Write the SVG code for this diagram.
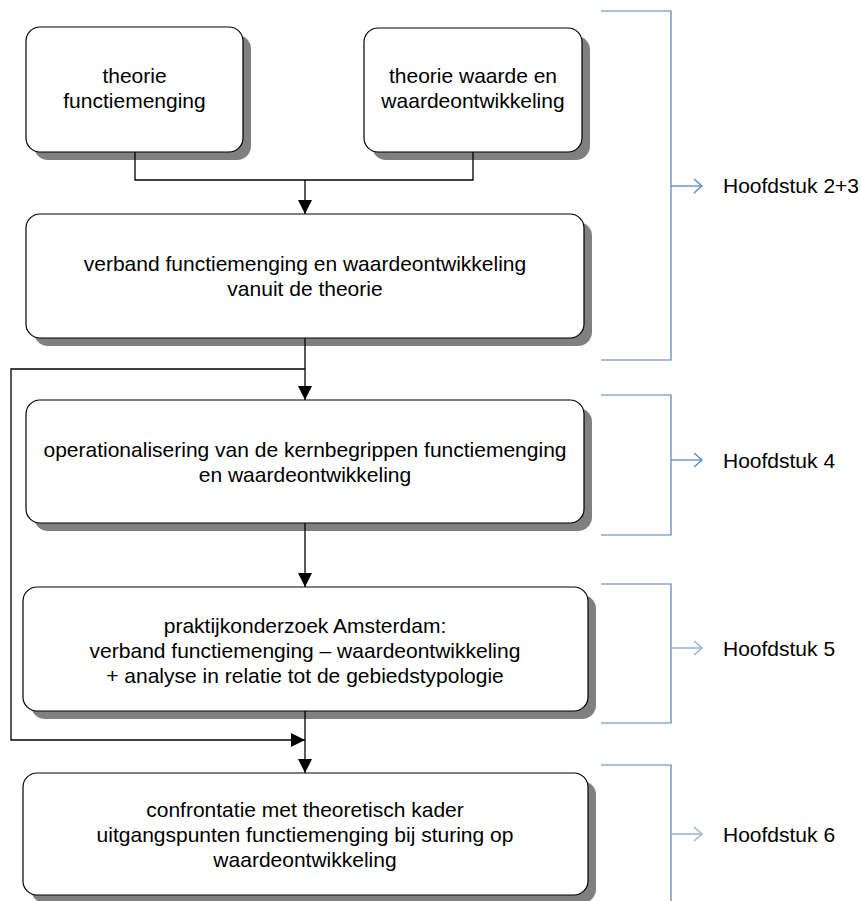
<svg xmlns="http://www.w3.org/2000/svg" width="861" height="901" viewBox="0 0 861 901">
<style>
.shadow{fill:#808080;stroke:none}
.box{fill:#fff;stroke:#000;stroke-width:1.2}
.t{font-family:"Liberation Sans",Arial,sans-serif;font-size:21px;fill:#000;text-anchor:middle}
.lbl{font-family:"Liberation Sans",Arial,sans-serif;font-size:21px;fill:#000}
.conn{fill:none;stroke:#000;stroke-width:1.3}
.br{fill:none;stroke:#4F81BD;stroke-width:1.2}
.ba{fill:none;stroke:#4F81BD;stroke-width:1.2}
.ba2{fill:none;stroke:#95B3D7;stroke-width:1.5}
</style>
<defs>
<marker id="ah" markerUnits="userSpaceOnUse" markerWidth="15" markerHeight="14" refX="14" refY="7" orient="auto">
<path d="M0,0 L14,7 L0,14 z" fill="#000"/>
</marker>
</defs>
<rect width="861" height="901" fill="#fff"/>

<g id="node1">
<rect class="shadow" x="34" y="35" width="217" height="125" rx="14"/>
<rect class="box" x="26" y="27" width="217" height="125" rx="14"/>
<text class="t" x="134.5" y="83">theorie</text>
<text class="t" x="134.5" y="108">functiemenging</text>
</g>

<g id="node2">
<rect class="shadow" x="372" y="36" width="218" height="124" rx="14"/>
<rect class="box" x="364" y="28" width="218" height="124" rx="14"/>
<text class="t" x="473" y="83">theorie waarde en</text>
<text class="t" x="473" y="108">waardeontwikkeling</text>
</g>

<g id="node3">
<rect class="shadow" x="34" y="222" width="558" height="124" rx="14"/>
<rect class="box" x="26" y="214" width="558" height="124" rx="14"/>
<text class="t" x="305" y="271">verband functiemenging en waardeontwikkeling</text>
<text class="t" x="305" y="296">vanuit de theorie</text>
</g>

<g id="node4">
<rect class="shadow" x="34" y="408" width="558" height="123" rx="14"/>
<rect class="box" x="26" y="400" width="558" height="123" rx="14"/>
<text class="t" x="305" y="457">operationalisering van de kernbegrippen functiemenging</text>
<text class="t" x="305" y="482">en waardeontwikkeling</text>
</g>

<g id="node5">
<rect class="shadow" x="31" y="595" width="565" height="124" rx="14"/>
<rect class="box" x="23" y="587" width="565" height="124" rx="14"/>
<text class="t" x="305" y="633">praktijkonderzoek Amsterdam:</text>
<text class="t" x="305" y="658">verband functiemenging – waardeontwikkeling</text>
<text class="t" x="305" y="683">+ analyse in relatie tot de gebiedstypologie</text>
</g>

<g id="node6">
<rect class="shadow" x="31" y="781" width="565" height="122" rx="14"/>
<rect class="box" x="23" y="773" width="565" height="122" rx="14"/>
<text class="t" x="305" y="817">confrontatie met theoretisch kader</text>
<text class="t" x="305" y="842">uitgangspunten functiemenging bij sturing op</text>
<text class="t" x="305" y="867">waardeontwikkeling</text>
</g>

<g id="connectors">
<polyline class="conn" points="135,152 135,180 473,180 473,152"/>
<line class="conn" x1="305" y1="180" x2="305" y2="214" marker-end="url(#ah)"/>
<line class="conn" x1="305" y1="338" x2="305" y2="400" marker-end="url(#ah)"/>
<polyline class="conn" points="305,369 11,369 11,740 305,740" marker-end="url(#ah)"/>
<line class="conn" x1="305" y1="523" x2="305" y2="587" marker-end="url(#ah)"/>
<line class="conn" x1="305" y1="711" x2="305" y2="773" marker-end="url(#ah)"/>
</g>

<g id="chapter23">
<polyline class="br" points="601,11 671,11 671,360 601,360"/>
<line class="ba" x1="671" y1="186" x2="702" y2="186"/>
<polyline class="ba" points="694,179 702,186 694,193"/>
<text class="lbl" x="723" y="193">Hoofdstuk 2+3</text>
</g>

<g id="chapter4">
<polyline class="br" points="601,395 671,395 671,535 601,535"/>
<line class="ba" x1="671" y1="460" x2="702" y2="460"/>
<polyline class="ba" points="694,453 702,460 694,467"/>
<text class="lbl" x="723" y="468">Hoofdstuk 4</text>
</g>

<g id="chapter5">
<polyline class="br" points="601,584 671,584 671,723 601,723"/>
<line class="ba2" x1="671" y1="648" x2="702" y2="648"/>
<polyline class="ba2" points="694,641 702,648 694,655"/>
<text class="lbl" x="723" y="656">Hoofdstuk 5</text>
</g>

<g id="chapter6">
<polyline class="br" points="601,765 671,765 671,901"/>
<line class="ba2" x1="671" y1="834" x2="702" y2="834"/>
<polyline class="ba2" points="694,827 702,834 694,841"/>
<text class="lbl" x="723" y="842">Hoofdstuk 6</text>
</g>
</svg>
